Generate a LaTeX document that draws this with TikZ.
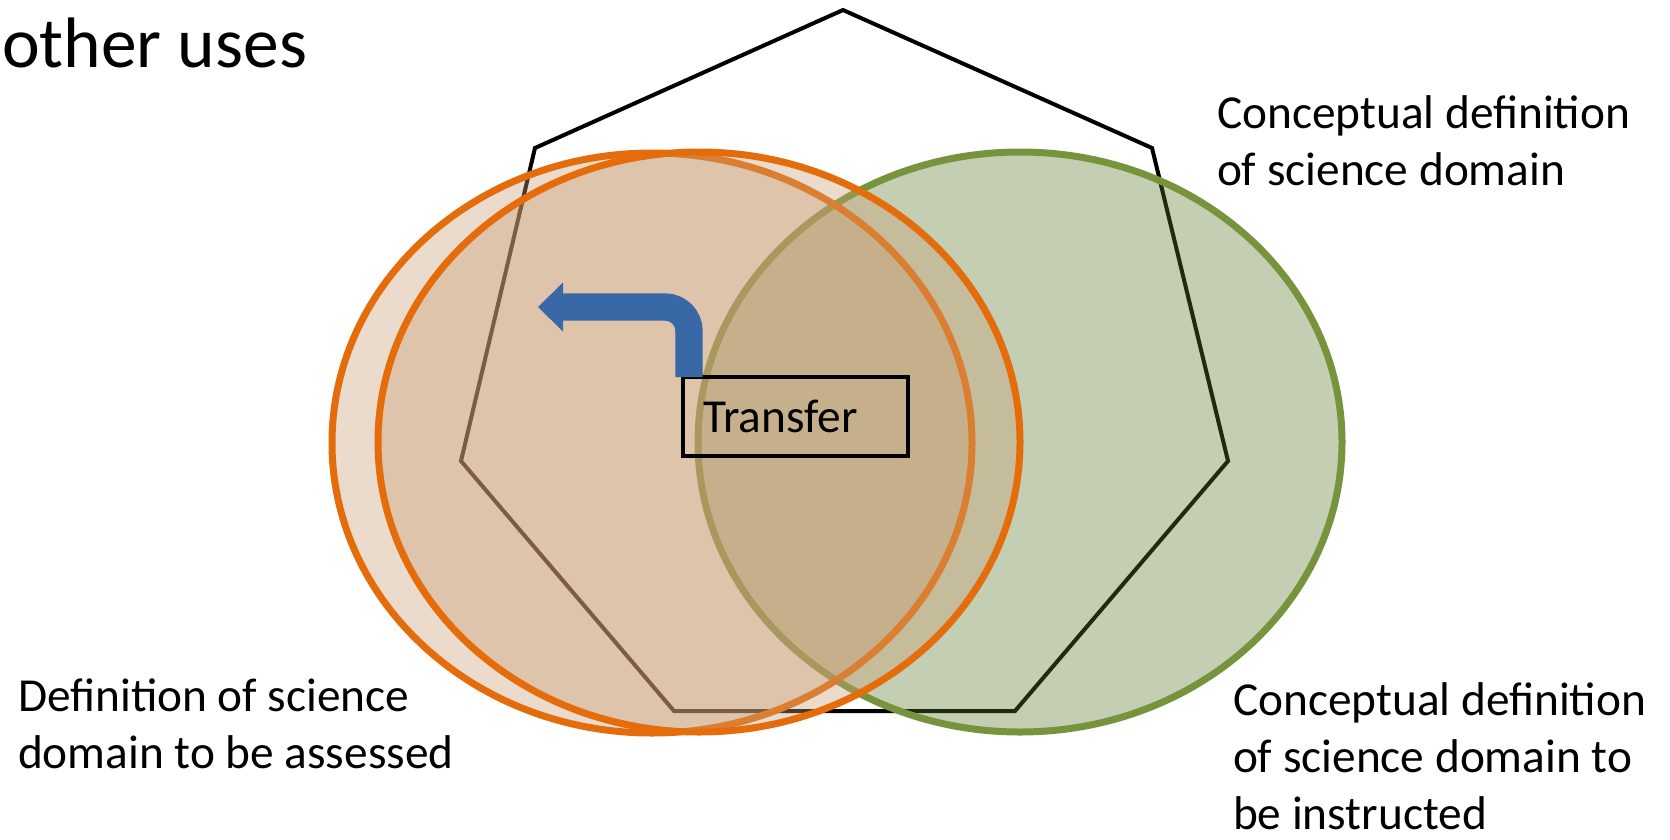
\documentclass[tikz,border=0pt]{standalone}
\usepackage{fontspec}
\setmainfont{Carlito}
\usetikzlibrary{positioning,shapes.geometric,arrows.meta}
\definecolor{ringorange}{RGB}{228,108,10}
\definecolor{fillorange}{RGB}{202,157,116}
\definecolor{ringgreen}{RGB}{119,147,60}
\definecolor{fillgreen}{RGB}{88,119,43}
\definecolor{turnblue}{RGB}{56,104,166}

\begin{document}
\begin{tikzpicture}[x=0.75pt,y=-0.75pt,
		every node/.style={font=\fontsize{35.5}{42.5}\selectfont,
			inner sep=0pt, outer sep=0pt},
		setring/.style={ellipse, draw, line width=5.25pt,
			minimum width=#1, minimum height=435pt},
		textlabel/.style={align=left, anchor=base west}]
		\useasboundingbox (0,0) rectangle (1670,839);

		% the conceptual domain
		\draw[line width=3pt] (843,10) -- (1152,148) -- (1228,461) -- (1015,711)
			-- (674,711) -- (461,461) -- (535,148) -- cycle;

		% create the nodes.
		\node (instructed) [setring=483pt, draw=ringgreen, fill=fillgreen,
			fill opacity=0.36] at (1020,442) {};
		\node (assessedback) [setring=480pt, draw=ringorange, fill=fillorange,
			fill opacity=0.37] at (652,443) {};
		\node (assessed) [setring=481.5pt, draw=ringorange, fill=fillorange,
			fill opacity=0.37] at (699,442) {};
		\node (transfer) [draw, line width=2.6pt, text width=138.75pt,
			inner xsep=15pt, minimum height=59.25pt, align=left] at (795.5,416.5) {Transfer};
		\coordinate (tip) at (538,307);

		\node (title) [anchor=base east, font=\fontsize{53.6}{64}\selectfont] at (307,67) {other uses};
		% base = last line
		\node (conceptlabel) [textlabel] at (1217,185) {Conceptual definition\\of science domain};
		\node (assessedlabel) [textlabel] at (18,768) {Definition of science\\domain to be assessed};
		\node (instructedlabel) [textlabel] at (1233,829) {Conceptual definition\\of science domain to\\be instructed};

		% connect the nodes
		\draw[turnblue, line width=20.5pt, rounded corners=18pt,
			-{Triangle[length=18.75pt, width=36.75pt, line width=0pt]}]
			([xshift=4.5pt]transfer.north west) |- (tip);
	\end{tikzpicture}
\end{document}
